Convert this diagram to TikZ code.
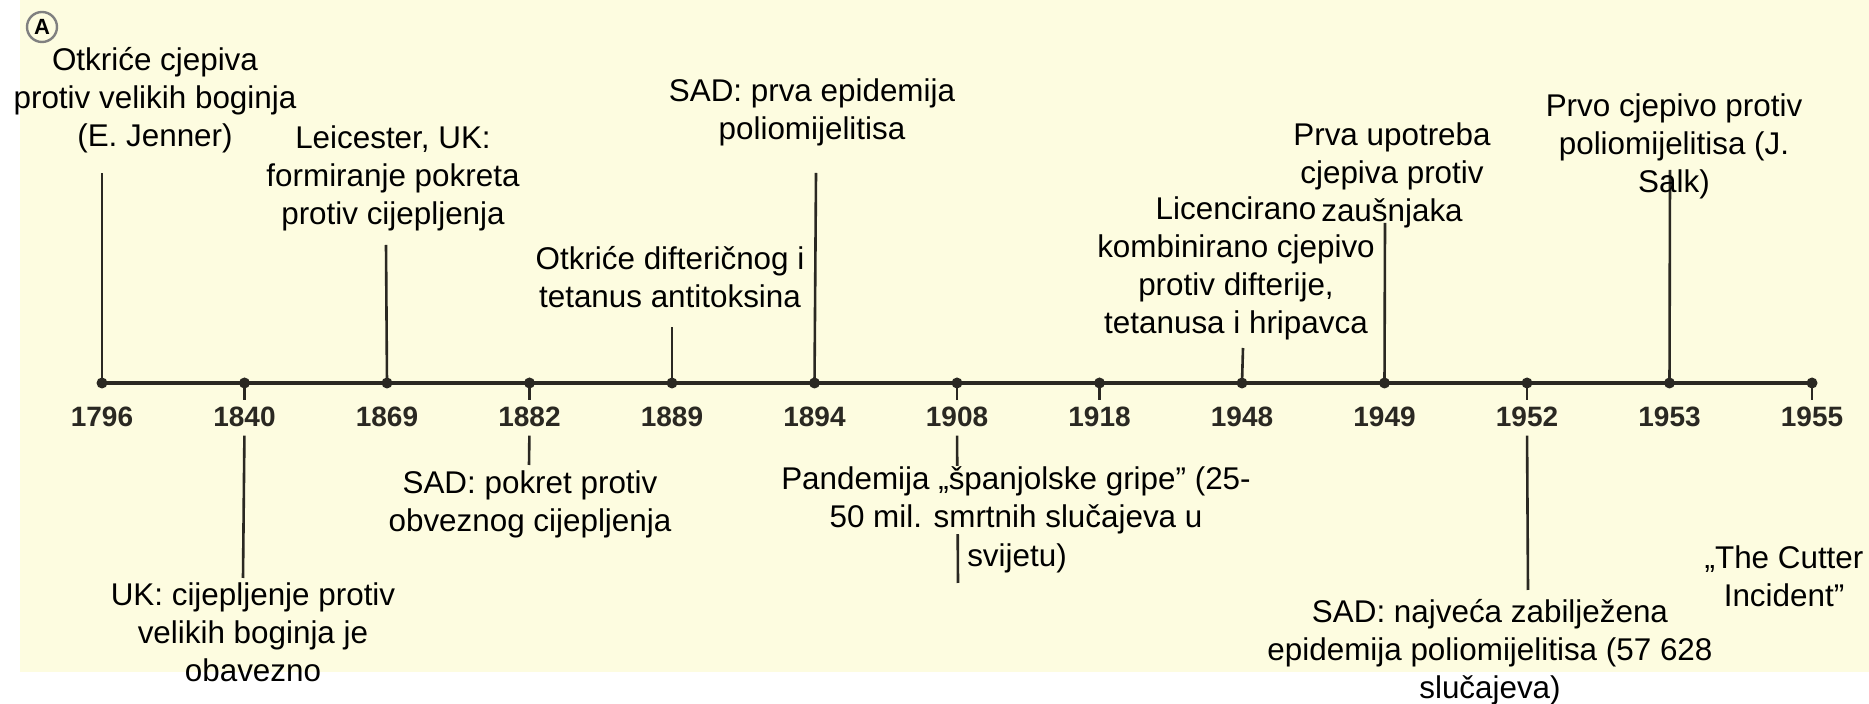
\documentclass[tikz,border=0pt]{standalone}
\usepackage{fontspec}
\setmainfont{Liberation Sans}
\usetikzlibrary{positioning}

\definecolor{paper}{RGB}{253,252,224}
\definecolor{ink}{RGB}{42,40,34}

\tikzset{
  dot/.style={circle, fill=ink, inner sep=0pt, minimum size=5.5pt},
  year/.style={inner sep=0pt, text=ink, font=\fontsize{14}{16}\selectfont\bfseries},
  event/.style={inner sep=0pt, align=center, font=\fontsize{15.7}{19}\selectfont},
  stem/.style={draw=ink, line width=1.3pt},
  badge/.style={circle, draw=gray, line width=1.2pt, inner sep=0pt, minimum size=15pt,
    font=\fontsize{11}{11}\selectfont\bfseries}
}

\begin{document}
\begin{tikzpicture}[x=0.5pt, y=-0.5pt]
  \useasboundingbox (0,0) rectangle (1869,704);
  \fill[white] (0,0) rectangle (1869,704);
  \fill[paper] (20,0) rectangle (1869,672);

  \node[badge] (mark) at (42,27) {A};

  % time axis
  \foreach \yr [count=\i from 0] in {1796,1840,1869,1882,1889,1894,1908,1918,1948,1949,1952,1953,1955}
    \node[dot] (d\yr) at ({102+142.5*\i},383) {};
  \draw[ink, line width=1.8pt] (d1796.center) -- (d1955.center);
  \foreach \yr in {1796,1840,1869,1882,1889,1894,1908,1918,1948,1949,1952,1953,1955}
    \node[year, below=9pt of d\yr] (y\yr) {\yr};
  \foreach \yr in {1840,1882,1908,1918,1952,1955}
    \draw[stem, shorten >=3.5pt] (d\yr.center) -- (y\yr.north);

  % events above
  \coordinate (top1796) at (102,173);
  \coordinate (top1869) at (386,245);
  \coordinate (top1889) at (672,327);
  \coordinate (top1894) at (816,173);
  \coordinate (top1948) at (1243,348);
  \coordinate (top1949) at (1385,223);
  \coordinate (top1953) at (1670,170);
  \foreach \yr in {1796,1869,1889,1894,1948,1949,1953}
    \draw[stem] (d\yr.center) -- (top\yr);

  % events below
  \coordinate (low1840) at (243,578);
  \coordinate (low1882) at (529,465);
  \coordinate (low1908) at (958,583);
  \coordinate (low1952) at (1528,590);
  \foreach \yr in {1840,1882,1908,1952}
    \draw[stem, shorten <=4pt] (y\yr.south) -- (low\yr);

  \node[event] (t1796) at (155,100) {Otkriće cjepiva\\protiv velikih boginja\\(E. Jenner)};
  \node[event] (t1869) at (393,178) {Leicester, UK:\\formiranje pokreta\\protiv cijepljenja};
  \node[event] (t1889) at (670,277) {Otkriće difteričnog i\\tetanus antitoksina};
  \node[event] (t1894) at (812,112) {SAD: prva epidemija\\poliomijelitisa};
  \node[event] (t1948) at (1236,268) {Licencirano\\kombinirano cjepivo\\protiv difterije,\\tetanusa i hripavca};
  \node[event] (t1949) at (1392,175) {Prva upotreba\\cjepiva protiv\\zaušnjaka};
  \node[event] (t1953) at (1674,146) {Prvo cjepivo protiv\\poliomijelitisa (J.\\Salk)};

  \node[event] (t1840) at (253,632) {UK: cijepljenje protiv\\velikih boginja je\\obavezno};
  \node[event] (t1882) at (530,504) {SAD: pokret protiv\\obveznog cijepljenja};
  \node[event, fill=paper] (t1908) at (1016,500) {Pandemija „španjolske gripe” (25-\\50 mil. smrtnih slučajeva u};
  \node[event] (t1908b) at (1017,558) {svijetu)};
  \node[event] (t1952) at (1490,652) {SAD: najveća zabilježena\\epidemija poliomijelitisa (57 628\\slučajeva)};
  \node[event] (t1955) at (1784,576) {„The Cutter\\Incident”};
\end{tikzpicture}
\end{document}
